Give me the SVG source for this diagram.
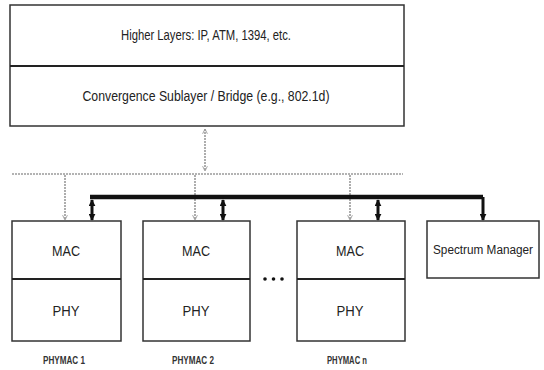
<svg xmlns="http://www.w3.org/2000/svg" width="544" height="370" viewBox="0 0 544 370">
<defs>
<style>
.box{fill:#fff;stroke:#333;stroke-width:1.5}
.div{stroke:#222;stroke-width:2}
.t{font-family:"Liberation Sans",Arial,sans-serif;fill:#222;text-anchor:middle}
.big{font-size:15px}
.sm{font-size:12.5px}
.top{font-size:14px}
.lbl{font-size:10px;font-weight:bold;fill:#333}
.gray{stroke:#9a9a9a;stroke-width:1.6;stroke-dasharray:2 1;fill:none}
.blk{stroke:#111;stroke-width:3;fill:none}
.bus{stroke:#111;stroke-width:4.5;fill:none;stroke-linejoin:round}
</style>
<marker id="gh" viewBox="0 0 10 10" refX="9" refY="5" markerWidth="6" markerHeight="6" orient="auto-start-reverse" markerUnits="userSpaceOnUse">
<path d="M1,1 L9,5 L1,9" fill="none" stroke="#9a9a9a" stroke-width="1.5"/>
</marker>
<marker id="bh" viewBox="0 0 10 10" refX="9" refY="5" markerWidth="7" markerHeight="7" orient="auto-start-reverse" markerUnits="userSpaceOnUse">
<path d="M0,0 L10,5 L0,10 Z" fill="#111"/>
</marker>
</defs>

<g id="upper-stack">
<rect class="box" x="10" y="5" width="394" height="121"/>
<line class="div" x1="10" y1="66" x2="404" y2="66"/>
<text class="t top" x="206" y="40" textLength="170" lengthAdjust="spacingAndGlyphs">Higher Layers: IP, ATM, 1394, etc.</text>
<text class="t top" x="206" y="101" textLength="247" lengthAdjust="spacingAndGlyphs">Convergence Sublayer / Bridge (e.g., 802.1d)</text>
</g>

<g id="phymac1">
<rect class="box" x="12" y="221" width="109" height="120"/>
<line class="div" x1="12" y1="279" x2="121" y2="279"/>
<text class="t big" x="66" y="256" textLength="28" lengthAdjust="spacingAndGlyphs">MAC</text>
<text class="t big" x="66" y="316" textLength="27" lengthAdjust="spacingAndGlyphs">PHY</text>
<text class="t lbl" x="64" y="364" textLength="42" lengthAdjust="spacingAndGlyphs">PHYMAC 1</text>
</g>

<g id="phymac2">
<rect class="box" x="143" y="221" width="107" height="120"/>
<line class="div" x1="143" y1="279" x2="250" y2="279"/>
<text class="t big" x="196" y="256" textLength="28" lengthAdjust="spacingAndGlyphs">MAC</text>
<text class="t big" x="196" y="316" textLength="27" lengthAdjust="spacingAndGlyphs">PHY</text>
<text class="t lbl" x="193" y="364" textLength="42" lengthAdjust="spacingAndGlyphs">PHYMAC 2</text>
</g>

<g id="ellipsis">
<circle cx="265" cy="279" r="1.8" fill="#111"/>
<circle cx="273.5" cy="279" r="1.8" fill="#111"/>
<circle cx="282" cy="279" r="1.8" fill="#111"/>
</g>

<g id="phymacn">
<rect class="box" x="297" y="221" width="108" height="120"/>
<line class="div" x1="297" y1="279" x2="405" y2="279"/>
<text class="t big" x="350" y="256" textLength="28" lengthAdjust="spacingAndGlyphs">MAC</text>
<text class="t big" x="350" y="316" textLength="27" lengthAdjust="spacingAndGlyphs">PHY</text>
<text class="t lbl" x="347" y="364" textLength="40" lengthAdjust="spacingAndGlyphs">PHYMAC n</text>
</g>

<g id="spectrum-manager">
<rect class="box" x="427" y="221" width="112" height="57"/>
<text class="t sm" x="483" y="254" textLength="100" lengthAdjust="spacingAndGlyphs">Spectrum Manager</text>
</g>

<g id="connectors">
<line class="gray" x1="12" y1="174" x2="403" y2="174" stroke-dasharray="1.5 0.8"/>
<line class="gray" x1="205" y1="129" x2="205" y2="171" marker-start="url(#gh)" marker-end="url(#gh)"/>
<line class="gray" x1="65" y1="175" x2="65" y2="220" marker-end="url(#gh)"/>
<line class="gray" x1="195" y1="175" x2="195" y2="220" marker-end="url(#gh)"/>
<line class="gray" x1="350" y1="175" x2="350" y2="220" marker-end="url(#gh)"/>
<path class="bus" d="M90,197 H483"/>
<path class="blk" d="M483,197 V220" marker-end="url(#bh)"/>
<line class="blk" x1="92" y1="200" x2="92" y2="220" marker-start="url(#bh)" marker-end="url(#bh)"/>
<line class="blk" x1="223" y1="200" x2="223" y2="220" marker-start="url(#bh)" marker-end="url(#bh)"/>
<line class="blk" x1="378" y1="200" x2="378" y2="220" marker-start="url(#bh)" marker-end="url(#bh)"/>
</g>
</svg>
